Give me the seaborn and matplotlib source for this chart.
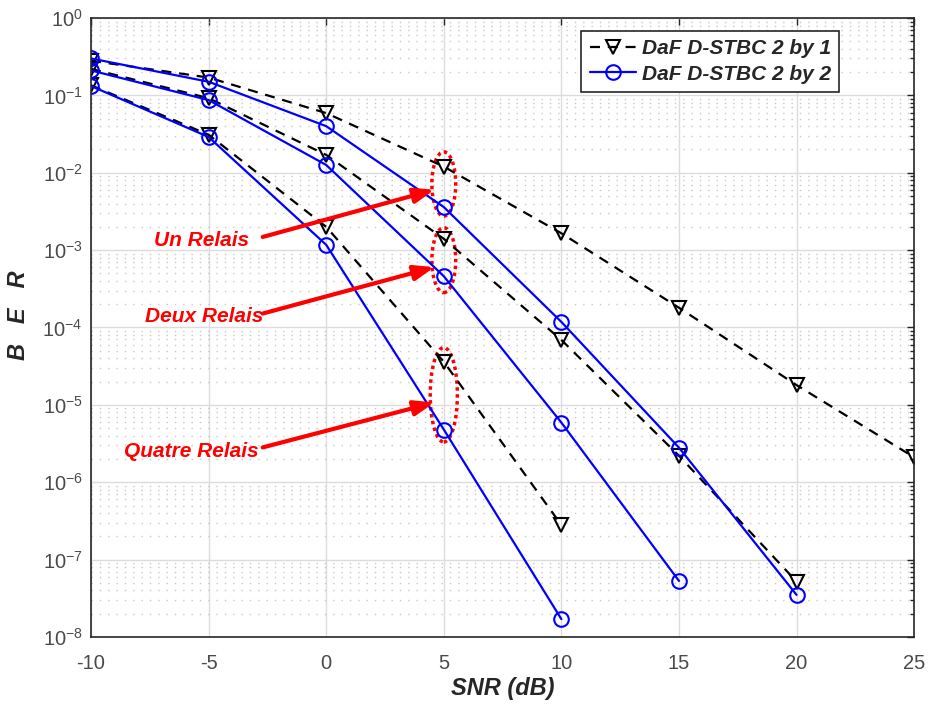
import matplotlib
matplotlib.use("Agg")
import matplotlib.pyplot as plt
import seaborn as sns
import pandas as pd
from matplotlib.lines import Line2D
from matplotlib.patches import Ellipse
from matplotlib.ticker import LogLocator, LogFormatterSciNotation, NullFormatter, MultipleLocator

# data
snr_1 = [-10, -5, 0, 5, 10, 15, 20, 25]
snr_2 = [-10, -5, 0, 5, 10, 15, 20]
snr_4 = [-10, -5, 0, 5, 10]

# DaF D-STBC 2 by 1
ber_21_un = [0.28, 0.17, 0.059, 0.012, 1.65e-3, 1.8e-4, 1.8e-5, 2.1e-6]
ber_21_deux = [0.22, 0.092, 0.017, 1.4e-3, 6.9e-5, 2.2e-6, 5.2e-8]
ber_21_quatre = [0.135, 0.031, 2.0e-3, 3.6e-5, 2.8e-7]

# DaF D-STBC 2 by 2
snr_22_un = [-10, -5, 0, 5, 10, 15, 20]
snr_22_deux = [-10, -5, 0, 5, 10, 15]
ber_22_un = [0.30, 0.15, 0.040, 3.6e-3, 1.18e-4, 2.8e-6, 3.5e-8]
ber_22_deux = [0.21, 0.087, 0.0126, 4.6e-4, 5.9e-6, 5.3e-8]
ber_22_quatre = [0.132, 0.029, 1.17e-3, 4.8e-6, 1.7e-8]

legend_labels = ["DaF D-STBC 2 by 1", "DaF D-STBC 2 by 2"]
relay_labels = ["Un Relais", "Deux Relais", "Quatre Relais"]

curves = [
    ("21", "un", snr_1, ber_21_un),
    ("21", "deux", snr_2, ber_21_deux),
    ("21", "quatre", snr_4, ber_21_quatre),
    ("22", "un", snr_22_un, ber_22_un),
    ("22", "deux", snr_22_deux, ber_22_deux),
    ("22", "quatre", snr_4, ber_22_quatre),
]
df = pd.concat(
    [pd.DataFrame({"snr": x, "ber": y, "scheme": s, "relay": r}) for s, r, x, y in curves],
    ignore_index=True,
)

sns.set_style("white")
plt.rcParams["font.family"] = ["Liberation Sans", "DejaVu Sans"]
plt.rcParams["axes.unicode_minus"] = False

fig = plt.figure(figsize=(9.29, 7.09), dpi=100)
ax = fig.add_axes([0.098, 0.1016, 0.886, 0.873])

dash = (0, (4.5, 3.5))
styles = {
    "21": dict(color="black", linestyle=dash, marker="v", markersize=9.5),
    "22": dict(color="#0000ff", linestyle="-", marker="o", markersize=10.5),
}

for (scheme, relay), sub in df.groupby(["scheme", "relay"], sort=False):
    st = styles[scheme]
    sns.lineplot(
        data=sub, x="snr", y="ber", ax=ax, sort=False, estimator=None,
        color=st["color"], linestyle=st["linestyle"], linewidth=1.6,
        marker=st["marker"], markersize=st["markersize"],
        markerfacecolor="none", markeredgecolor=st["color"], markeredgewidth=1.5,
        legend=False,
    )

ax.set_yscale("log")
ax.set_xlim(-10, 25)
ax.set_ylim(1e-8, 1)
ax.xaxis.set_major_locator(MultipleLocator(5))
ax.yaxis.set_major_locator(LogLocator(base=10, numticks=12))
ax.yaxis.set_major_formatter(LogFormatterSciNotation())
ax.yaxis.set_minor_locator(LogLocator(base=10, subs=range(2, 10), numticks=12))
ax.yaxis.set_minor_formatter(NullFormatter())

ax.grid(which="major", color="#dcdcdc", linestyle="-", linewidth=1.0)
ax.grid(which="minor", axis="y", color="#c8c8c8", linestyle=(0, (1, 5)), linewidth=1.0)
ax.set_axisbelow(True)

ax.tick_params(which="both", direction="in", top=True, right=True, colors="#262626",
               labelcolor="#4a4a4a", labelsize=14.5)
ax.tick_params(which="major", length=5, width=1)
ax.tick_params(which="minor", length=3, width=1)
ax.tick_params(axis="x", pad=12)
ax.tick_params(axis="y", pad=6)
for sp in ax.spines.values():
    sp.set_color("#262626")
    sp.set_linewidth(1.2)

ax.set_xlabel("SNR (dB)", fontsize=17, fontweight="bold", fontstyle="italic",
              color="#262626", labelpad=3)
ax.set_ylabel("B   E   R", fontsize=17, fontweight="bold", fontstyle="italic",
              color="#262626", labelpad=-1)
ax.yaxis.set_label_coords(-0.074, 0.52)

# legend
handles = [
    Line2D([], [], color="black", linestyle=dash, linewidth=1.6, marker="v",
           markersize=9.5, markerfacecolor="none", markeredgewidth=1.5),
    Line2D([], [], color="#0000ff", linestyle="-", linewidth=1.6, marker="o",
           markersize=10.5, markerfacecolor="none", markeredgewidth=1.5),
]
leg = ax.legend(handles, legend_labels, loc="upper right", bbox_to_anchor=(0.909, 0.979),
                fancybox=False, framealpha=1, edgecolor="#262626", handlelength=2.2,
                prop=dict(size=15, weight="bold", style="italic"), borderpad=0.4,
                labelspacing=0.3, handletextpad=0.3, borderaxespad=0)
leg.get_frame().set_linewidth(1.2)

# annotations
red = "#ff0000"
text_pos = [(-5.3, -2.87), (-5.2, -3.86), (-5.75, -5.6)]
tips = [(4.6, -2.22), (4.6, -3.22), (4.6, -4.97)]
tails = [(-2.7, -2.83), (-2.7, -3.82), (-2.7, -5.55)]
for lab, tp, tip, tail in zip(relay_labels, text_pos, tips, tails):
    ax.text(tp[0], 10 ** tp[1], lab, color=red, fontsize=15, fontweight="bold",
            fontstyle="italic", ha="center", va="center")
    ax.annotate("", xy=(tip[0], 10 ** tip[1]), xytext=(tail[0], 10 ** tail[1]),
                arrowprops=dict(arrowstyle="-|>,head_length=1.2,head_width=0.45",
                                color=red, lw=3, shrinkA=0, shrinkB=0))

# dotted ellipses around the 5 dB points (axes fraction)
ell_centres = [-2.145, -3.13, -4.87]
ell_heights = [0.83, 0.84, 1.22]
ell_widths = [0.029, 0.029, 0.033]
for c, h, w in zip(ell_centres, ell_heights, ell_widths):
    ax.add_patch(Ellipse(((5 + 10) / 35, (c + 8) / 8), w, h / 8, transform=ax.transAxes,
                         fill=False, edgecolor=red, linestyle=(0, (1, 1)), linewidth=2.5))

fig.savefig("out.png", dpi=100)
